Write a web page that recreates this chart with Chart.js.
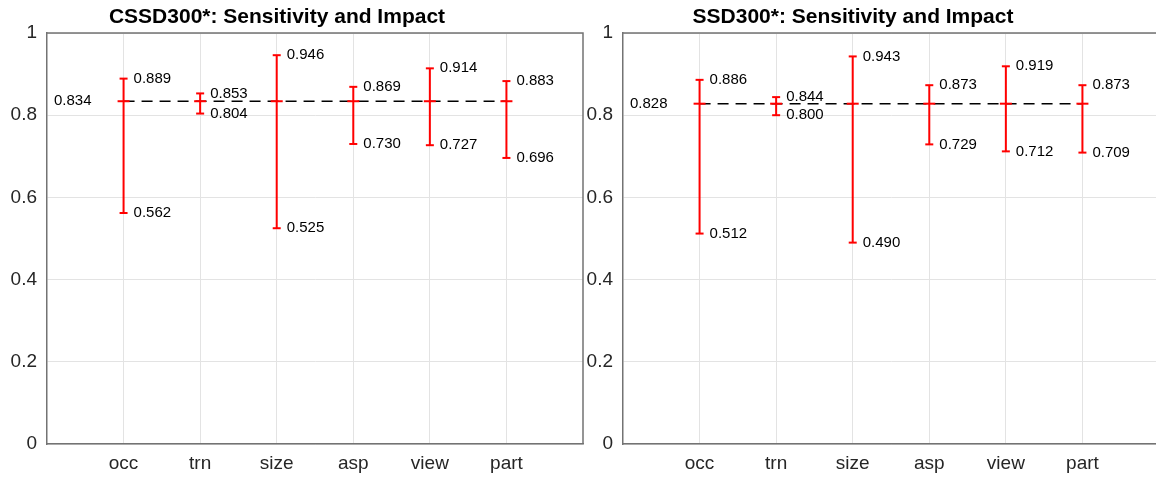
<!DOCTYPE html>
<html>
<head>
<meta charset="utf-8">
<script src="https://cdn.jsdelivr.net/npm/chart.js@4/dist/chart.umd.min.js"></script>
<style>
  html, body { margin: 0; padding: 0; background: #fff; overflow: hidden; }
  body { width: 1156px; height: 477px; position: relative; }
  .panel { position: absolute; top: 0; width: 600px; height: 477px; }
</style>
</head>
<body>
<div class="panel" style="left:0px"><canvas id="leftChart" width="600" height="477"></canvas></div>
<div class="panel" style="left:576px"><canvas id="rightChart" width="600" height="477"></canvas></div>
<script>
// data
const categories = ['occ', 'trn', 'size', 'asp', 'view', 'part'];
const yTicks = [0, 0.2, 0.4, 0.6, 0.8, 1];

const cssdTitle = 'CSSD300*: Sensitivity and Impact';
const cssdMean = 0.834;
const cssdLow = [0.562, 0.804, 0.525, 0.730, 0.727, 0.696];
const cssdHigh = [0.889, 0.853, 0.946, 0.869, 0.914, 0.883];

const ssdTitle = 'SSD300*: Sensitivity and Impact';
const ssdMean = 0.828;
const ssdLow = [0.512, 0.800, 0.490, 0.729, 0.712, 0.709];
const ssdHigh = [0.886, 0.844, 0.943, 0.873, 0.919, 0.873];

const FONT = '"Liberation Sans", Arial, Helvetica, sans-serif';
const RED = '#ff0000';

// frame, title and value labels
const extras = {
    id: 'extras',
    afterDraw(chart) {
        const o = chart.options.plugins.extras;
        const ctx = chart.ctx;
        const a = chart.chartArea;
        const xs = chart.scales.x, ys = chart.scales.y;
        ctx.save();
        // top and right border
        ctx.strokeStyle = '#737373';
        ctx.lineWidth = 1.5;
        ctx.beginPath();
        ctx.moveTo(a.left, a.top);
        ctx.lineTo(a.right, a.top);
        ctx.lineTo(a.right, a.bottom);
        ctx.stroke();
        // title
        ctx.fillStyle = '#000';
        ctx.font = 'bold 21px ' + FONT;
        ctx.textAlign = 'center';
        ctx.textBaseline = 'middle';
        ctx.fillText(o.title, a.left + 230, 17);
        // labels
        ctx.font = '15px ' + FONT;
        ctx.textAlign = 'left';
        ctx.fillText(o.mean.toFixed(3), a.left + 7, ys.getPixelForValue(o.mean));
        o.low.forEach((v, i) => {
            const x = xs.getPixelForValue(i + 1) + 10;
            ctx.fillText(v.toFixed(3), x, ys.getPixelForValue(v));
            ctx.fillText(o.high[i].toFixed(3), x, ys.getPixelForValue(o.high[i]));
        });
        ctx.restore();
    }
};

function makeChart(id, title, mean, low, high) {
    const bars = [];
    low.forEach((v, i) => {
        bars.push({ x: i + 1, y: v }, { x: i + 1, y: high[i] }, { x: i + 1, y: null });
    });
    const caps = [];
    low.forEach((v, i) => {
        caps.push({ x: i + 1, y: v }, { x: i + 1, y: high[i] });
    });
    const means = categories.map((c, i) => ({ x: i + 1, y: mean }));

    return new Chart(document.getElementById(id), {
        type: 'scatter',
        data: {
            datasets: [{
                // mean ticks
                data: means,
                pointStyle: 'line',
                pointRadius: 6,
                borderColor: RED,
                borderWidth: 2,
                order: 0
            }, {
                // caps
                data: caps,
                pointStyle: 'line',
                pointRadius: 4,
                borderColor: RED,
                borderWidth: 2,
                order: 1
            }, {
                // vertical error bars
                data: bars,
                showLine: true,
                spanGaps: false,
                pointRadius: 0,
                borderColor: RED,
                borderWidth: 2,
                order: 2
            }, {
                // dashed mean line
                data: [{ x: 1, y: mean }, { x: categories.length, y: mean }],
                showLine: true,
                pointRadius: 0,
                borderColor: '#000',
                borderWidth: 1.5,
                borderDash: [11, 7],
                order: 3
            }]
        },
        options: {
            responsive: false,
            animation: false,
            events: [],
            layout: { padding: { top: 33, right: 17, bottom: 0, left: 0 } },
            plugins: {
                legend: { display: false },
                tooltip: { enabled: false },
                extras: { title, mean, low, high }
            },
            scales: {
                x: {
                    type: 'linear',
                    min: 0,
                    max: 7,
                    afterBuildTicks: s => { s.ticks = categories.map((c, i) => ({ value: i + 1 })); },
                    afterFit: s => { s.height = 33; },
                    ticks: {
                        callback: (v, i) => categories[i],
                        font: { size: 19, family: FONT },
                        color: '#262626',
                        padding: 8,
                        maxRotation: 0,
                        autoSkip: false
                    },
                    grid: { color: '#e3e3e3', drawTicks: false },
                    border: { color: '#737373', width: 1.5 }
                },
                y: {
                    min: 0,
                    max: 1,
                    afterBuildTicks: s => { s.ticks = yTicks.map(v => ({ value: v })); },
                    afterFit: s => { s.width = 47; },
                    ticks: {
                        callback: v => String(v),
                        font: { size: 19, family: FONT },
                        color: '#262626',
                        padding: 10
                    },
                    grid: { color: '#e3e3e3', drawTicks: false },
                    border: { color: '#737373', width: 1.5 }
                }
            }
        },
        plugins: [extras]
    });
}

const leftChart = makeChart('leftChart', cssdTitle, cssdMean, cssdLow, cssdHigh);
const rightChart = makeChart('rightChart', ssdTitle, ssdMean, ssdLow, ssdHigh);
</script>
</body>
</html>
